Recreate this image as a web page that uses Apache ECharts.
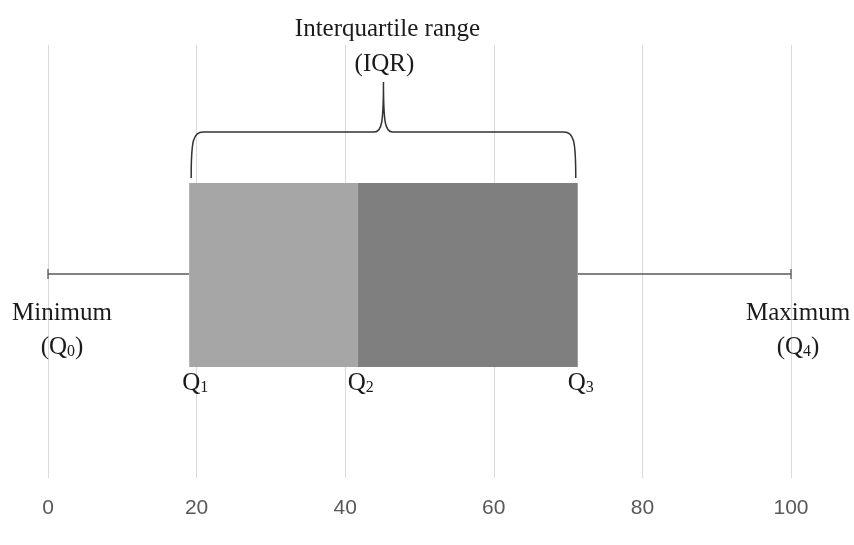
<!DOCTYPE html>
<html>
<head>
<meta charset="utf-8">
<script src="https://cdn.jsdelivr.net/npm/echarts@6/dist/echarts.min.js"></script>
<style>
html,body{margin:0;padding:0;background:#fff;}
#chart{width:854px;height:545px;}
</style>
</head>
<body>
<div id="chart"></div>
<script>
// ---- data ----
const categories = ['Distribution'];
const minimum = [0];
const q1 = [19];
const median = [41.7];
const q3 = [71.3];
const maximum = [100];
const xTicks = [0, 20, 40, 60, 80, 100];
const titleLines = ['Interquartile range', '(IQR)'];
const minLabel = ['Minimum', '0'];
const maxLabel = ['Maximum', '4'];
const quartileSubs = ['1', '2', '3'];

const serif = '"Liberation Serif", "Times New Roman", serif';
const richQ = {
  a: { fontFamily: serif, fontSize: 25, fill: '#1a1a1a', verticalAlign: 'bottom', lineHeight: 27 },
  s: { fontFamily: serif, fontSize: 16, fill: '#1a1a1a', verticalAlign: 'bottom', lineHeight: 24 }
};

function txt(text, x, y, size) {
  return { type: 'text', silent: true, style: { text: text, x: x, y: y, align: 'center', verticalAlign: 'middle',
    fill: '#1a1a1a', font: size + 'px ' + serif } };
}
function rtxt(text, x, y) {
  return { type: 'text', silent: true, style: { text: text, x: x, y: y, align: 'center', verticalAlign: 'middle', rich: richQ } };
}

const chart = echarts.init(document.getElementById('chart'));
const seriesData = categories.map((c, i) => [minimum[i], q1[i], median[i], q3[i], maximum[i]]);

chart.setOption({
  animation: false,
  backgroundColor: '#ffffff',
  grid: { left: 48, right: 63, top: 45, bottom: 67 },
  xAxis: {
    type: 'value', min: xTicks[0], max: xTicks[xTicks.length - 1], interval: 20,
    axisLine: { show: false }, axisTick: { show: false },
    splitLine: { show: true, lineStyle: { color: '#d9d9d9', width: 1 } },
    axisLabel: { color: '#595959', fontSize: 21, fontFamily: '"Liberation Sans", Arial, sans-serif', margin: 20 }
  },
  yAxis: { type: 'value', min: 0, max: 1, show: false },
  series: [{
    type: 'custom',
    data: seriesData,
    renderItem: function (params, api) {
      const cs = params.coordSys;
      const px = v => api.coord([v, 0])[0];
      const xMin = px(api.value(0)), xQ1 = px(api.value(1)), xQ2 = px(api.value(2)),
            xQ3 = px(api.value(3)), xMax = px(api.value(4));
      const top = cs.y + 138, bottom = cs.y + 322, wy = cs.y + 229;
      const xm = (xQ1 + xQ3) / 2;
      const bL = xQ1 + 2, bR = xQ3 - 2, bY = cs.y + 87, bEnd = cs.y + 133, bPeak = cs.y + 37;
      const brace = 'M' + bL + ',' + bEnd +
        ' C' + bL + ',' + (bY + 8) + ' ' + (bL + 2) + ',' + bY + ' ' + (bL + 12) + ',' + bY +
        ' L' + (xm - 9) + ',' + bY +
        ' C' + (xm - 2) + ',' + bY + ' ' + xm + ',' + (bY - 8) + ' ' + xm + ',' + bPeak +
        ' C' + xm + ',' + (bY - 8) + ' ' + (xm + 2) + ',' + bY + ' ' + (xm + 9) + ',' + bY +
        ' L' + (bR - 12) + ',' + bY +
        ' C' + (bR - 2) + ',' + bY + ' ' + bR + ',' + (bY + 8) + ' ' + bR + ',' + bEnd;
      const lineStyle = { stroke: '#595959', lineWidth: 1.3 };
      return {
        type: 'group',
        children: [
          { type: 'line', shape: { x1: xMin, y1: wy, x2: xQ1, y2: wy }, style: lineStyle },
          { type: 'line', shape: { x1: xQ3, y1: wy, x2: xMax, y2: wy }, style: lineStyle },
          { type: 'line', shape: { x1: xMin, y1: wy - 5, x2: xMin, y2: wy + 5 }, style: lineStyle },
          { type: 'line', shape: { x1: xMax, y1: wy - 5, x2: xMax, y2: wy + 5 }, style: lineStyle },
          { type: 'rect', shape: { x: xQ1, y: top, width: xQ2 - xQ1, height: bottom - top }, style: { fill: '#a6a6a6' } },
          { type: 'rect', shape: { x: xQ2, y: top, width: xQ3 - xQ2, height: bottom - top }, style: { fill: '#7f7f7f' } },
          { type: 'path', shape: { pathData: brace }, style: { fill: null, stroke: '#333333', lineWidth: 1.5 } },
          txt(titleLines[0], xm + 4, cs.y - 16, 25),
          txt(titleLines[1], xm + 1, cs.y + 19, 25),
          txt(minLabel[0], xMin + 14, cs.y + 268, 25),
          rtxt('{a|(Q}{s|' + minLabel[1] + '}{a|)}', xMin + 14, cs.y + 301),
          txt(maxLabel[0], xMax + 7, cs.y + 268, 25),
          rtxt('{a|(Q}{s|' + maxLabel[1] + '}{a|)}', xMax + 7, cs.y + 301),
          rtxt('{a|Q}{s|' + quartileSubs[0] + '}', xQ1 + 6, cs.y + 337),
          rtxt('{a|Q}{s|' + quartileSubs[1] + '}', xQ2 + 3, cs.y + 337),
          rtxt('{a|Q}{s|' + quartileSubs[2] + '}', xQ3 + 3, cs.y + 337)
        ]
      };
    }
  }]
});
</script>
</body>
</html>
